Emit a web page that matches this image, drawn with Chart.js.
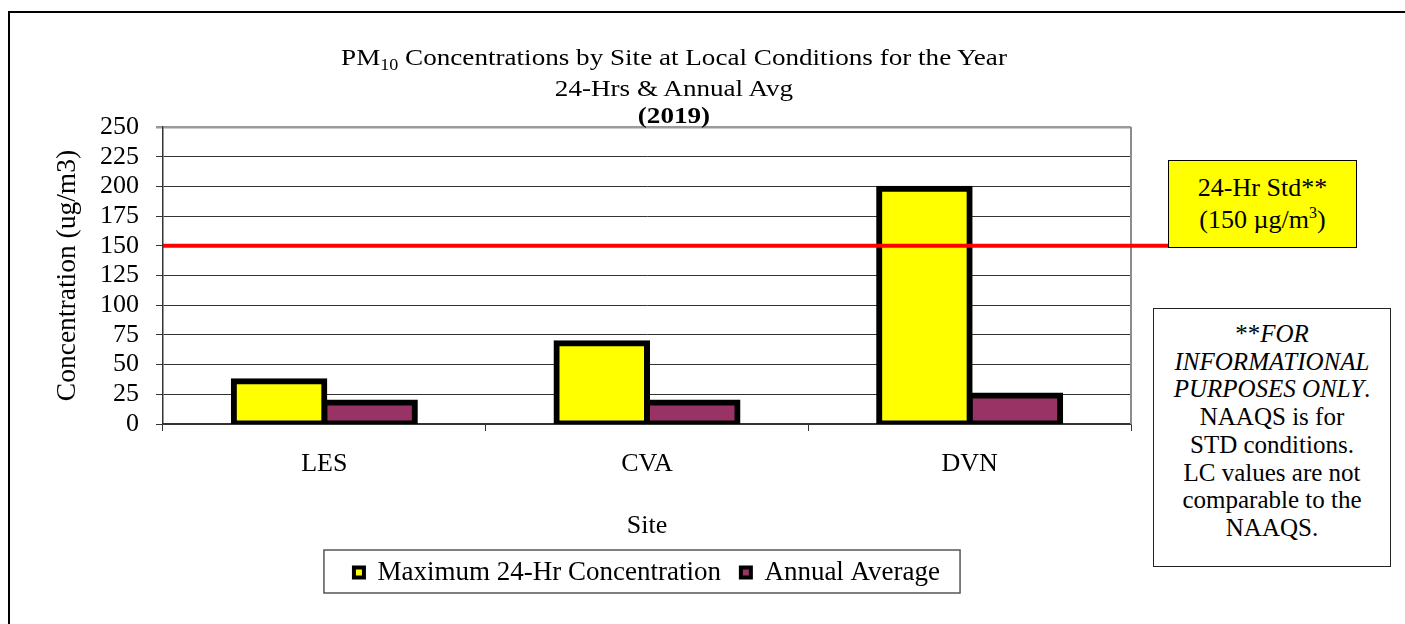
<!DOCTYPE html>
<html>
<head>
<meta charset="utf-8">
<title>PM10 Concentrations by Site</title>
<script src="https://cdn.jsdelivr.net/npm/chart.js@4.4.1/dist/chart.umd.min.js"></script>
<style>
    body { margin: 0; background: #fff; font-family: "Liberation Serif", "Times New Roman", serif; color: #000; }
    #wrap { position: relative; width: 1405px; height: 624px; overflow: hidden; }
    #myChart { position: absolute; left: 0; top: 0; }
    .title { position: absolute; left: 0; width: 1348px; text-align: center; font-size: 24px; line-height: 28px; white-space: nowrap;
             transform: scaleX(1.13); transform-origin: 674px 0; }
    .title sub { font-size: 16px; vertical-align: -5px; line-height: 0; }
    #stdBox { position: absolute; left: 1168px; top: 160px; width: 189px; height: 88px; box-sizing: border-box;
              border: 1.5px solid #000; background: #ffff00; font-size: 26px; line-height: 32px; text-align: center;
              padding-top: 11px; white-space: nowrap; }
    #stdBox sup { font-size: 16px; vertical-align: 10px; line-height: 0; }
    #noteBox { position: absolute; left: 1153px; top: 308px; width: 238px; height: 259px; box-sizing: border-box;
               border: 1.5px solid #222; background: #fff; font-size: 25px; line-height: 27.7px; text-align: center;
               padding-top: 11px; white-space: nowrap; }
</style>
</head>
<body>
<div id="wrap">
    <canvas id="myChart" width="1405" height="624"></canvas>
    <div class="title" style="top:43px">PM<sub>10</sub> Concentrations by Site at Local Conditions for the Year</div>
    <div class="title" style="top:74px">24-Hrs &amp; Annual Avg</div>
    <div class="title" style="top:101px"><b>(2019)</b></div>
    <div id="stdBox">24-Hr Std**<br>(150 µg/m<sup>3</sup>)</div>
    <div id="noteBox">**<i>FOR</i><br><i>INFORMATIONAL</i><br><i>PURPOSES ONLY</i>.<br>NAAQS is for<br>STD conditions.<br>LC values are not<br>comparable to the<br>NAAQS.</div>
</div>
<script>
// Data
const sites = ['LES', 'CVA', 'DVN'];
const max24Hr = [36, 68, 198];      // Maximum 24-Hr Concentration
const annualAvg = [18, 18, 24];     // Annual Average
const seriesNames = ['Maximum 24-Hr Concentration', 'Annual Average'];
const yTicks = [0, 25, 50, 75, 100, 125, 150, 175, 200, 225, 250];
const stdValue = 150;               // 24-Hr standard

Chart.defaults.font.family = '"Liberation Serif", "Times New Roman", serif';
Chart.defaults.font.size = 26;
Chart.defaults.color = '#000';

// Extra drawing: plot border, std line, legend frame, outer frame
const decorPlugin = {
    id: 'decor',
    afterDatasetsDraw(chart) {
        const {ctx, chartArea, scales} = chart;
        ctx.save();
        // right border of plot
        ctx.strokeStyle = '#8c8c8c';
        ctx.lineWidth = 2;
        ctx.beginPath();
        ctx.moveTo(chartArea.right, chartArea.top);
        ctx.lineTo(chartArea.right, chartArea.bottom);
        ctx.stroke();
        // red std line running out to the label box
        const y = scales.y.getPixelForValue(stdValue);
        ctx.strokeStyle = '#ff0000';
        ctx.lineWidth = 4;
        ctx.beginPath();
        ctx.moveTo(chartArea.left, y);
        ctx.lineTo(1168, y);
        ctx.stroke();
        ctx.restore();
    },
    afterDraw(chart) {
        const {ctx} = chart;
        ctx.save();
        // legend frame
        const boxes = chart.legend.legendHitBoxes;
        if (boxes && boxes.length) {
            const l = Math.min(...boxes.map(b => b.left)) - 30;
            const r = Math.max(...boxes.map(b => b.left + b.width)) + 20;
            const t = Math.min(...boxes.map(b => b.top)) - 9;
            const b2 = Math.max(...boxes.map(b => b.top + b.height)) + 7;
            ctx.strokeStyle = '#555';
            ctx.lineWidth = 1.5;
            ctx.strokeRect(l, t, r - l, b2 - t);
        }
        // outer frame
        ctx.strokeStyle = '#000';
        ctx.lineWidth = 2;
        ctx.strokeRect(9, 12, 1500, 700);
        ctx.restore();
    }
};

const ctx = document.getElementById('myChart').getContext('2d');
const myChart = new Chart(ctx, {
    type: 'bar',
    data: {
        labels: sites,
        datasets: [
            {
                label: seriesNames[0],
                data: max24Hr,
                backgroundColor: '#ffff00',
                borderColor: '#000',
                borderWidth: 6,
                borderSkipped: false,
                inflateAmount: 3
            },
            {
                label: seriesNames[1],
                data: annualAvg,
                backgroundColor: '#993366',
                borderColor: '#000',
                borderWidth: 6,
                borderSkipped: false,
                inflateAmount: 3
            }
        ]
    },
    options: {
        responsive: false,
        animation: false,
        categoryPercentage: 0.561,
        barPercentage: 1,
        layout: {
            padding: { top: 127, left: 40, right: 274, bottom: 28 }
        },
        scales: {
            x: {
                afterFit: scale => { scale.height = 115; },
                grid: {
                    offset: true,
                    drawOnChartArea: false,
                    drawTicks: true,
                    tickLength: 7,
                    color: '#333'
                },
                border: { color: '#333', width: 1.5 },
                ticks: { padding: 18, autoSkip: false, font: { size: 26 } },
                title: {
                    display: true,
                    text: 'Site',
                    font: { size: 26, lineHeight: 0.1 },
                    padding: { top: 0, bottom: 12 }
                }
            },
            y: {
                min: 0,
                max: 250,
                afterFit: scale => { scale.width = 123; },
                afterBuildTicks: scale => { scale.ticks = yTicks.map(v => ({ value: v })); },
                grid: {
                    tickLength: 7,
                    color: c => (c.tick && c.tick.value === 250 ? '#9a9a9a' : '#333'),
                    lineWidth: c => (c.tick && c.tick.value === 250 ? 2.5 : 1)
                },
                border: { color: '#333', width: 1.5 },
                ticks: { padding: 17, autoSkip: false, font: { size: 26 } },
                title: {
                    display: true,
                    text: 'Concentration (ug/m3)',
                    font: { size: 27.5 },
                    padding: { top: 11, bottom: 0 }
                }
            }
        },
        plugins: {
            title: { display: false },
            tooltip: { enabled: false },
            legend: {
                position: 'bottom',
                fullSize: false,
                labels: {
                    boxWidth: 10,
                    boxHeight: 10,
                    padding: 20,
                    font: { size: 27 },
                    generateLabels: chart => Chart.defaults.plugins.legend.labels.generateLabels(chart)
                        .map(item => Object.assign(item, { lineWidth: 4 }))
                }
            }
        }
    },
    plugins: [decorPlugin]
});
</script>
</body>
</html>
